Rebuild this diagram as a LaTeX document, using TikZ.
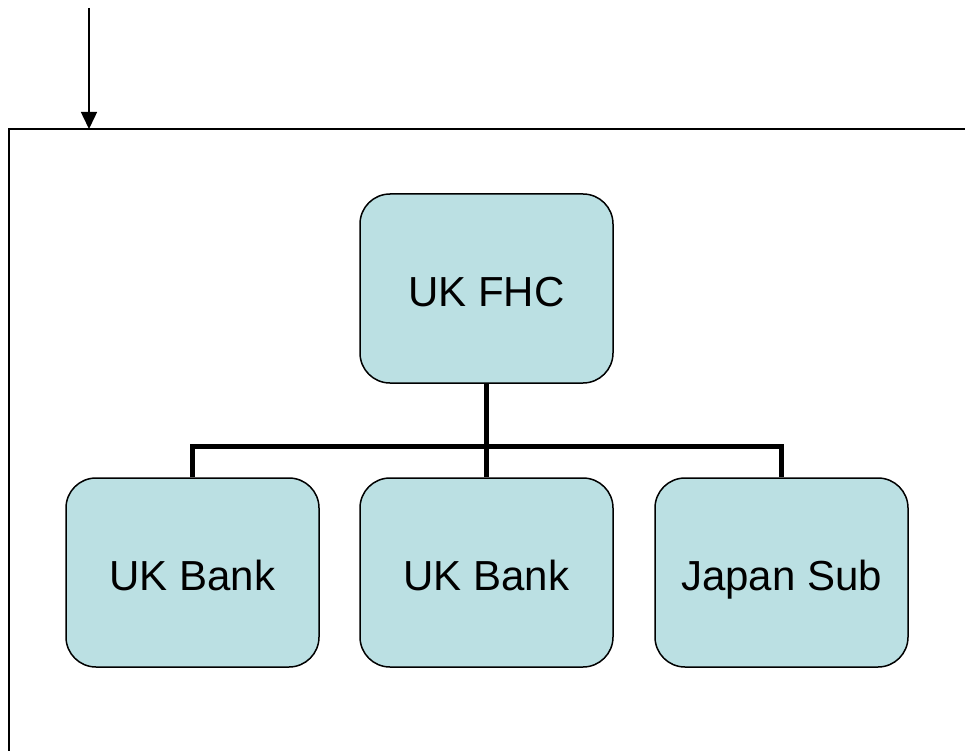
\documentclass[tikz,border=0pt]{standalone}
\usepackage{fontspec}
\setmainfont{Liberation Sans}
\usetikzlibrary{arrows.meta}
\definecolor{boxfill}{HTML}{BBE0E3}
\begin{document}
\begin{tikzpicture}[x=1pt,y=-1pt,
  orgbox/.style={draw=black, line width=1.5pt, fill=boxfill, rounded corners=30pt,
    minimum width=253pt, minimum height=189pt, inner sep=0pt,
    text height=35pt, text depth=0pt,
    font=\fontsize{42}{48}\selectfont},
  link/.style={line width=5pt},
  frame/.style={line width=2pt}]
  \useasboundingbox (0,0) rectangle (965,751);
  % outer frame, open to the right and bottom
  \coordinate (fr) at (967,129);
  \coordinate (fc) at (9,129);
  \coordinate (fb) at (9,753);
  \draw[frame] (fr) -- (fc) -- (fb);
  % incoming arrow
  \coordinate (in) at (89,8);
  \coordinate (inend) at (89,129);
  \draw[line width=1.5pt, -{Triangle[length=17pt,width=16pt]}] (in) -- (inend);
  % boxes
  \node[orgbox] (fhc) at (486.5,288.5) {UK FHC};
  \node[orgbox] (bank1) at (192.5,572.5) {UK Bank};
  \node[orgbox] (bank2) at (486.5,572.5) {UK Bank};
  \node[orgbox] (japan) at (781.5,572.5) {Japan Sub};
  % connectors
  \coordinate (bus) at (486.5,446);
  \draw[link] (fhc.south) -- (bus);
  \draw[link] (bank1.north) |- (bus) -| (japan.north);
  \draw[link] (bus) -- (bank2.north);
\end{tikzpicture}
\end{document}
